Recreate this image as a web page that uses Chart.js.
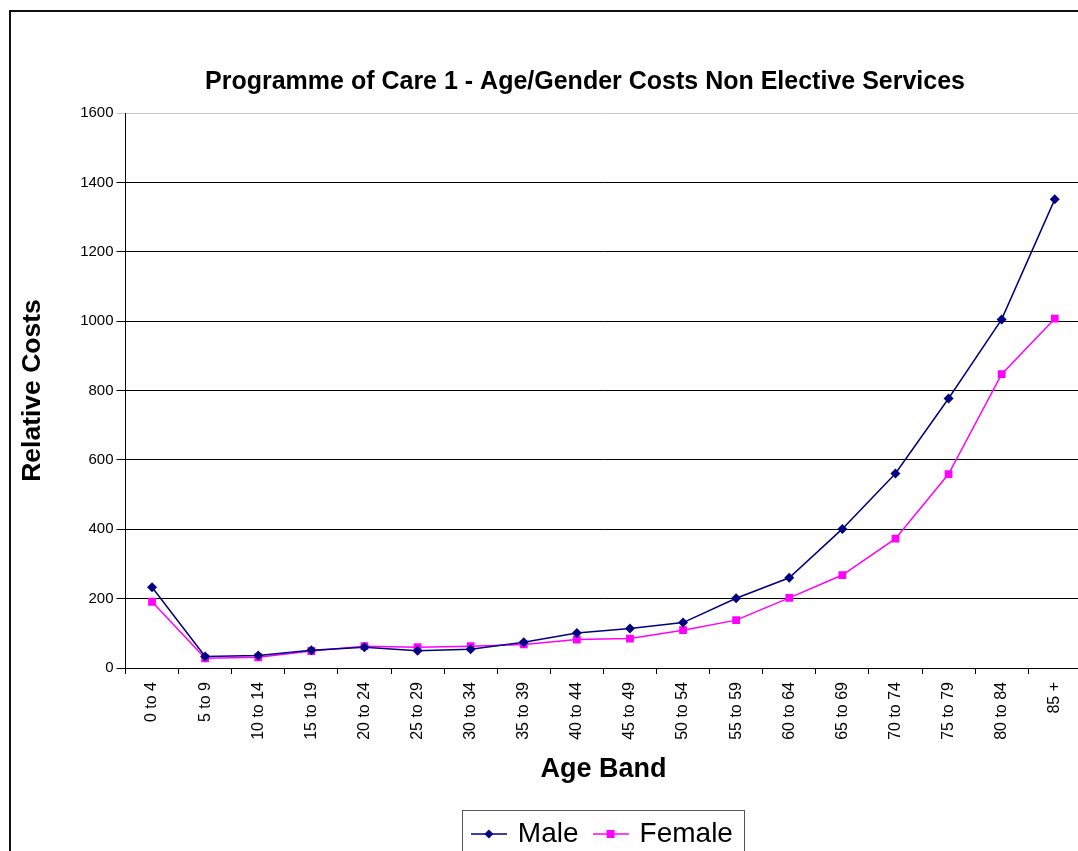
<!DOCTYPE html>
<html lang="en">

<head>
    <meta charset="UTF-8">
    <title>Programme of Care 1</title>
    <script src="https://cdn.jsdelivr.net/npm/chart.js"></script>
    <style>
        body {
            margin: 0;
            overflow: hidden;
            background: #fff;
            font-family: "Liberation Sans", Arial, sans-serif;
        }

        .marco {
            position: absolute;
            left: 9px;
            top: 10px;
            width: 1200px;
            height: 900px;
            border-left: 2px solid #111;
            border-top: 2px solid #111;
        }

        #grafica {
            position: absolute;
            left: 10px;
            top: 10px;
        }
    </style>
</head>

<body>
    <div class="marco"></div>
    <canvas id="grafica" width="1150" height="859"></canvas>
</body>

<script>
    // datos
    const ageBands = ['0 to 4', '5 to 9', '10 to 14', '15 to 19', '20 to 24', '25 to 29', '30 to 34', '35 to 39',
        '40 to 44', '45 to 49', '50 to 54', '55 to 59', '60 to 64', '65 to 69', '70 to 74', '75 to 79', '80 to 84', '85 +'];
    const male = [233, 33, 36, 51, 60, 50, 54, 74, 101, 114, 131, 201, 260, 401, 561, 777, 1005, 1351];
    const female = [191, 28, 31, 49, 63, 60, 63, 68, 82, 85, 109, 138, 202, 268, 373, 559, 847, 1007];
    const yMin = 0;
    const yMax = 1600;
    const yStep = 200;

    const tituloTexto = 'Programme of Care 1 - Age/Gender Costs Non Elective Services';
    const fuente = 'Liberation Sans, Arial, sans-serif';

    // icono de leyenda: linea con marcador en medio
    function iconoLeyenda(color, estilo) {
        const c = document.createElement('canvas');
        c.width = 36;
        c.height = 12;
        const g = c.getContext('2d');
        g.strokeStyle = color;
        g.lineWidth = 1.5;
        g.beginPath();
        g.moveTo(0, 6);
        g.lineTo(36, 6);
        g.stroke();
        g.fillStyle = color;
        if (estilo === 'rectRot') {
            g.beginPath();
            g.moveTo(18, 1.5);
            g.lineTo(22.5, 6);
            g.lineTo(18, 10.5);
            g.lineTo(13.5, 6);
            g.closePath();
            g.fill();
        } else {
            g.fillRect(14, 2, 8, 8);
        }
        return c;
    }

    // titulo centrado en todo el marco (no solo en el area del grafico)
    const tituloCentrado = {
        id: 'tituloCentrado',
        afterDraw(chart) {
            const ctx = chart.ctx;
            ctx.save();
            ctx.fillStyle = '#000';
            ctx.font = 'bold 25px ' + fuente;
            ctx.textAlign = 'center';
            ctx.textBaseline = 'middle';
            ctx.fillText(tituloTexto, chart.width / 2, 72);
            ctx.restore();
        }
    };

    // borde alrededor de la leyenda
    const bordeLeyenda = {
        id: 'bordeLeyenda',
        afterDraw(chart) {
            const cajas = chart.legend.legendHitBoxes;
            if (!cajas || !cajas.length) return;
            const first = cajas[0];
            const last = cajas[cajas.length - 1];
            const ctx = chart.ctx;
            ctx.save();
            ctx.strokeStyle = '#555';
            ctx.lineWidth = 1;
            const x0 = Math.round(first.left - 12) + 0.5;
            const x1 = Math.round(last.left + last.width + 11) + 0.5;
            const y0 = Math.round(first.top - 10) + 0.5;
            ctx.strokeRect(x0, y0, x1 - x0, first.height + 20);
            ctx.restore();
        }
    };

    const ctx = document.getElementById('grafica').getContext('2d');
    const chart = new Chart(ctx, {
        type: 'line',
        data: {
            labels: ageBands,
            datasets: [{
                label: 'Male',
                data: male,
                borderColor: '#000080',
                backgroundColor: '#000080',
                borderWidth: 1.5,
                pointStyle: 'rectRot',
                pointRadius: 5,
                pointBorderWidth: 0,
                tension: 0
            }, {
                label: 'Female',
                data: female,
                borderColor: '#ff00ff',
                backgroundColor: '#ff00ff',
                borderWidth: 1.5,
                pointStyle: 'rect',
                pointRadius: 5.5,
                pointBorderWidth: 0,
                tension: 0
            }]
        },
        options: {
            responsive: false,
            animation: false,
            devicePixelRatio: 1,
            layout: {
                padding: { left: 0, right: 78.7, top: 103, bottom: 11 }
            },
            plugins: {
                title: { display: false },
                legend: {
                    position: 'bottom',
                    fullSize: false,
                    labels: {
                        color: '#000',
                        font: { family: fuente, size: 28 },
                        usePointStyle: true,
                        pointStyleWidth: 30,
                        padding: 17,
                        generateLabels(chart) {
                            return chart.data.datasets.map((ds, i) => ({
                                text: ds.label,
                                pointStyle: iconoLeyenda(ds.borderColor, ds.pointStyle),
                                fillStyle: ds.backgroundColor,
                                strokeStyle: ds.borderColor,
                                lineWidth: 0,
                                hidden: !chart.isDatasetVisible(i),
                                datasetIndex: i
                            }));
                        }
                    }
                },
                tooltip: { enabled: false }
            },
            scales: {
                x: {
                    offset: true,
                    grid: {
                        offset: true,
                        drawOnChartArea: false,
                        drawTicks: true,
                        tickLength: 6,
                        color: '#000'
                    },
                    border: { color: '#000', width: 1 },
                    ticks: {
                        color: '#000',
                        font: { family: fuente, size: 16 },
                        minRotation: 90,
                        maxRotation: 90,
                        padding: 8,
                        autoSkip: false
                    },
                    title: {
                        display: true,
                        text: 'Age Band',
                        color: '#000',
                        font: { family: fuente, size: 27, weight: 'bold' },
                        padding: { top: 4, bottom: 17 }
                    },
                    afterFit(scale) {
                        scale.height = 135;
                    }
                },
                y: {
                    min: yMin,
                    max: yMax,
                    ticks: {
                        stepSize: yStep,
                        color: '#000',
                        font: { family: fuente, size: 15 },
                        padding: 3,
                        callback: v => String(v)
                    },
                    grid: {
                        color: c => (c.tick && c.tick.value === yMax) ? '#c8c8c8' : '#000',
                        lineWidth: 1,
                        tickLength: 9
                    },
                    border: { color: '#000', width: 1 },
                    title: {
                        display: true,
                        text: 'Relative Costs',
                        color: '#000',
                        font: { family: fuente, size: 26.5, weight: 'bold' },
                        padding: { top: 7, bottom: 4 }
                    },
                    afterFit(scale) {
                        scale.width = 115.5;
                    }
                }
            }
        },
        plugins: [tituloCentrado, bordeLeyenda]
    });
</script>

</html>
